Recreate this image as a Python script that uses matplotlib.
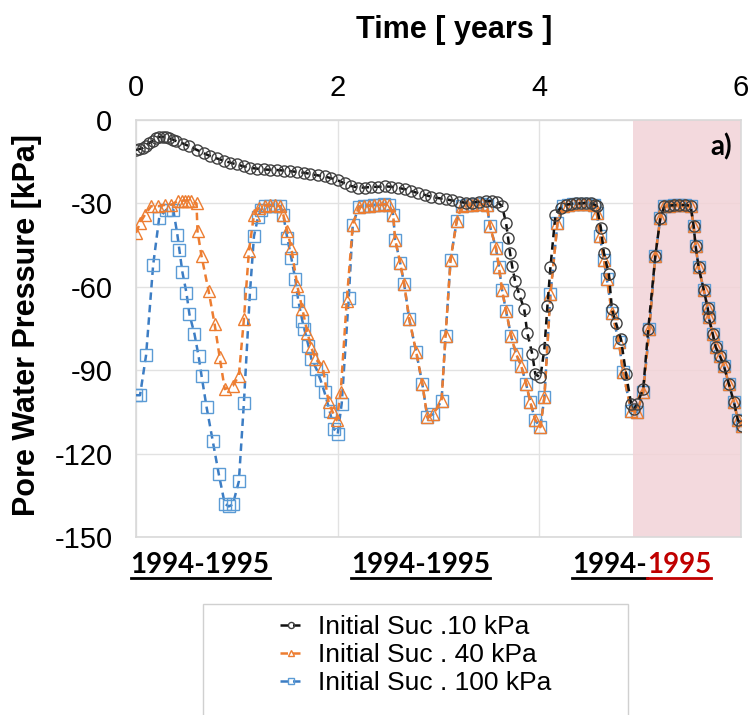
import numpy as np
import matplotlib
matplotlib.use('Agg')
import matplotlib.pyplot as plt
from matplotlib.lines import Line2D
from matplotlib.patches import Rectangle

plt.rcParams['font.family'] = ['Liberation Sans', 'DejaVu Sans']
plt.rcParams['axes.unicode_minus'] = False

# Initial suction 10 kPa
t_10 = [0.00, 0.03, 0.07, 0.10, 0.13, 0.17, 0.20, 0.23, 0.27, 0.30, 0.33, 0.37, 0.40,
        0.47, 0.53, 0.60, 0.67, 0.73, 0.80, 0.87, 0.93, 1.00, 1.07, 1.13, 1.20, 1.27,
        1.33, 1.40, 1.47, 1.53, 1.60, 1.67, 1.73, 1.80, 1.87, 1.93, 2.00, 2.07, 2.13,
        2.20, 2.27, 2.33, 2.40, 2.47, 2.53, 2.60, 2.67, 2.73, 2.80, 2.87, 2.93, 3.00,
        3.07, 3.13, 3.20, 3.27, 3.33, 3.40, 3.47, 3.53, 3.58, 3.63, 3.67, 3.69, 3.71,
        3.73, 3.76, 3.80, 3.85, 3.88, 3.93, 3.96, 4.01, 4.05, 4.08, 4.11, 4.16, 4.21,
        4.26, 4.31, 4.36, 4.41, 4.46, 4.51, 4.55, 4.57, 4.61, 4.64, 4.69, 4.72, 4.76,
        4.81, 4.86, 4.91, 4.94, 4.97, 5.03, 5.08, 5.15]
p_10 = [-10.8, -10.5, -10.0, -9.2, -8.3, -7.4, -6.6, -6.1, -6.0, -6.2, -6.6, -7.1, -7.6,
        -8.5, -9.5, -10.7, -11.9, -12.9, -13.8, -14.6, -15.3, -16.0, -16.7, -17.2, -17.5, -17.8,
        -17.9, -18.0, -18.2, -18.4, -18.7, -19.0, -19.4, -19.9, -20.3, -20.9, -21.7, -22.8, -23.7,
        -24.3, -24.3, -24.1, -24.0, -23.9, -24.0, -24.4, -24.9, -25.6, -26.3, -27.0, -27.6, -28.1,
        -28.5, -28.9, -29.4, -29.8, -29.7, -29.4, -29.2, -29.2, -29.4, -31.0, -37.0, -42.4, -48.0,
        -52.5, -58.0, -62.7, -68.0, -76.5, -84.2, -91.4, -92.6, -82.4, -67.0, -53.0, -34.0, -31.6,
        -30.5, -30.2, -30.0, -30.0, -29.8, -30.0, -30.5, -31.0, -38.8, -47.8, -55.5, -68.0, -73.0,
        -78.9, -91.4, -102.0, -104.0, -102.0, -96.8, -75.3, -49.0]

# Initial suction 40 kPa
t_40 = [0.00, 0.04, 0.09, 0.15, 0.22, 0.29, 0.35, 0.42, 0.46, 0.49, 0.52, 0.55, 0.60,
        0.61, 0.65, 0.72, 0.78, 0.83, 0.88, 0.96, 1.02, 1.07, 1.12, 1.17, 1.22, 1.28,
        1.33, 1.38, 1.43, 1.46, 1.50, 1.54, 1.60, 1.65, 1.70, 1.74, 1.78, 1.85, 1.91,
        1.95, 1.99, 2.03, 2.09]
p_40 = [-40.6, -37.0, -34.0, -31.0, -31.0, -30.5, -30.5, -29.0, -29.0, -29.0, -29.0, -29.0, -30.0,
        -40.0, -49.0, -61.5, -73.5, -85.4, -96.8, -95.6, -92.0, -71.7, -47.2, -34.0, -31.6, -30.8,
        -30.6, -30.6, -31.0, -34.0, -40.0, -46.0, -59.7, -68.0, -76.5, -82.0, -86.0, -88.4, -101.5,
        -105.0, -108.0, -98.0, -65.0]

# Initial suction 100 kPa
t_100 = [0.00, 0.04, 0.10, 0.17, 0.23, 0.30, 0.37, 0.41, 0.43, 0.46, 0.50, 0.53, 0.58,
         0.62, 0.65, 0.70, 0.76, 0.82, 0.88, 0.92, 0.96, 1.02, 1.07, 1.13, 1.17, 1.21,
         1.24, 1.28, 1.33, 1.38, 1.43, 1.46, 1.50, 1.54, 1.58, 1.61, 1.65, 1.67, 1.71,
         1.74, 1.79, 1.83, 1.87, 1.92, 1.96, 2.00, 2.04, 2.11]
p_100 = [-99.0, -99.0, -84.6, -52.2, -35.2, -32.3, -32.3, -41.2, -46.6, -54.7, -62.1, -69.9, -77.0,
         -84.8, -92.0, -103.3, -115.3, -127.2, -138.0, -139.0, -138.3, -130.0, -101.8, -62.1, -41.8, -35.0,
         -32.3, -31.0, -30.8, -30.8, -31.0, -34.0, -42.4, -49.6, -57.3, -65.1, -72.3, -75.3, -81.2,
         -86.0, -89.6, -93.5, -98.0, -104.5, -111.0, -113.0, -102.0, -64.0]

# part of the record where the curves lie on top of each other
t_common = [2.15, 2.21, 2.26, 2.31, 2.36, 2.41, 2.46, 2.51, 2.55, 2.57, 2.62, 2.66, 2.71,
            2.78, 2.84, 2.89, 2.95, 3.03, 3.07, 3.12, 3.18, 3.23, 3.28, 3.33, 3.38, 3.43,
            3.48, 3.51, 3.57, 3.60, 3.63, 3.67, 3.72, 3.77, 3.82, 3.87, 3.91, 3.96, 4.01,
            4.05, 4.11, 4.18, 4.23, 4.28, 4.33, 4.38, 4.43, 4.48, 4.54, 4.57, 4.60, 4.64,
            4.67, 4.72, 4.79, 4.83, 4.91, 4.97, 5.03, 5.09, 5.15, 5.20, 5.24, 5.29, 5.34,
            5.39, 5.44, 5.50, 5.53, 5.55, 5.58, 5.63, 5.67, 5.68, 5.72, 5.75, 5.79, 5.83,
            5.88, 5.93, 5.97, 6.01]
p_common = [-37.6, -31.2, -31.0, -30.8, -30.6, -30.5, -30.3, -30.5, -34.0, -43.0, -51.4, -59.1, -71.7,
            -83.6, -95.0, -107.0, -105.7, -101.0, -77.7, -50.2, -36.5, -31.0, -30.5, -30.5, -30.3, -30.3,
            -30.5, -38.2, -46.0, -53.0, -61.0, -68.7, -77.7, -84.2, -88.4, -95.0, -101.5, -108.0, -110.5,
            -99.8, -62.7, -37.0, -31.0, -30.5, -30.3, -30.2, -30.2, -30.3, -30.5, -33.4, -41.8, -50.2,
            -57.3, -69.3, -80.0, -90.8, -104.5, -105.0, -98.0, -75.3, -49.0, -35.2, -31.0, -30.8, -30.6,
            -30.6, -30.6, -30.8, -38.0, -45.4, -53.0, -61.0, -67.7, -71.0, -77.0, -81.8, -84.8, -88.4,
            -95.0, -101.5, -108.0, -110.0]

labels = ['Initial Suc .10 kPa', 'Initial Suc . 40 kPa', 'Initial Suc . 100 kPa']
year_label = '1994-1995'
shade_from = 4.93

# full series
n10 = np.searchsorted(t_common, 5.2)
x10 = np.array(t_10 + t_common[n10:])
y10 = np.array(p_10 + p_common[n10:])
x40 = np.array(t_40 + t_common)
y40 = np.array(p_40 + p_common)
x100 = np.array(t_100 + t_common)
y100 = np.array(p_100 + p_common)

fig = plt.figure(figsize=(7.54, 7.15), dpi=100)
ax = fig.add_axes([136/754, 1-537/715, 605/754, 417/715])

ax.axvspan(shade_from, 6, color='#F2D3D7', alpha=0.85, zorder=0.6, lw=0)

style = dict(ls='--', dashes=(3, 2), lw=1.8, mfc='none', ms=8, mew=1.0)
h100, = ax.plot(x100, y100, color='#3C7DC4', marker='s', mec='#5B9BD5', zorder=3, **style)
h40, = ax.plot(x40, y40, color='#ED7D31', marker='^', mec='#ED7D31', zorder=4, **style)
h10, = ax.plot(x10, y10, color='#111111', marker='o', mec='#404040', zorder=5, **style)

ax.set_xlim(0, 6)
ax.set_ylim(-150, 0)
ax.set_xticks([0, 2, 4, 6])
ax.set_yticks(np.arange(-150, 1, 30))
ax.xaxis.tick_top()
ax.tick_params(length=0, labelsize=21, colors='black')
ax.tick_params(axis='x', pad=13)
ax.tick_params(axis='y', pad=17)
ax.grid(color='#E2E2E2', lw=1)
ax.set_axisbelow(True)
for s in ax.spines.values():
    s.set_color('#D9D9D9')
    s.set_linewidth(1.2)

fig.text(454/754, 1-30/715, 'Time [ years ]', ha='center', va='center',
         fontsize=22, fontweight='bold')
fig.text(27/754, 1-325/715, 'Pore Water Pressure [kPa]', ha='center', va='center',
         rotation=90, fontsize=22, fontweight='bold')

ax.text(0.985, 0.935, 'a)', transform=ax.transAxes, ha='right', va='center',
        fontsize=20, fontweight='bold', family='Lato')

# year labels under the axis, underlined
yr_font = dict(fontsize=20, fontweight='bold', family='Lato', va='center')
yl = 1 - 565/715
t1 = fig.text(200/754, yl, year_label, ha='center', **yr_font)
t2 = fig.text(421/754, yl, year_label, ha='center', **yr_font)
t3a = fig.text(572/754, yl, year_label[:5], ha='left', **yr_font)
fig.canvas.draw()
r = fig.canvas.get_renderer()
e3a = t3a.get_window_extent(r)
t3b = fig.text(e3a.x1/754, yl, year_label[5:], ha='left', color='#C00000', **yr_font)
fig.canvas.draw()

uy = 1 - 578/715
for t, c in [(t1, 'black'), (t2, 'black'), (t3a, 'black'), (t3b, '#C00000')]:
    e = t.get_window_extent(r)
    fig.add_artist(Line2D([e.x0/754, e.x1/754], [uy, uy], color=c, lw=2))

# legend with its own frame
fig.add_artist(Rectangle((203/754, -0.05), 425/754, (715-604)/715 + 0.05,
                         transform=fig.transFigure, fill=False, ec='#D0D0D0', lw=1))
fig.legend([h10, h40, h100], labels, loc='upper left', bbox_to_anchor=(280/754, 1-615/715),
           frameon=False, fontsize=19, handlelength=0.85, handletextpad=0.6,
           labelspacing=0.15, borderpad=0, borderaxespad=0, markerscale=0.55)

plt.savefig('out.png', dpi=100)
